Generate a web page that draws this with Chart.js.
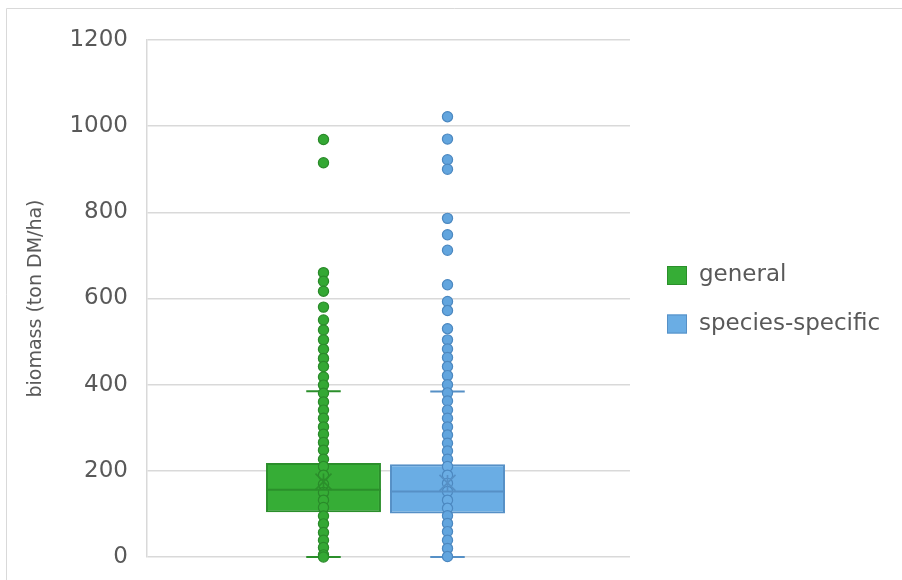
<!DOCTYPE html>
<html><head><meta charset="utf-8">
<script src="https://cdn.jsdelivr.net/npm/chart.js@4"></script>
<style>html,body{margin:0;padding:0;background:#fff}</style>
</head><body>
<canvas id="c" width="902" height="580"></canvas>
<script>
// ---- data ----
const categories = [0];
const seriesNames = ['general', 'species-specific'];
const boxMin    = [0, 0];
const boxQ1     = [104, 101];
const boxMedian = [156, 152];
const boxQ3     = [218, 215];
const boxMax    = [385, 384];
const boxMean   = [175, 172];
const generalPoints = [969, 915, 660, 640, 617, 580, 550, 527, 504, 482, 461, 442, 418, 399, 380, 360, 341, 322, 302, 285, 266, 248, 227, 210, 190, 169, 150, 132, 115, 95, 77, 57, 39, 22, 5, 0];
const speciesPoints = [1022, 970, 922, 900, 786, 748, 712, 632, 593, 572, 530, 504, 483, 463, 442, 421, 400, 381, 362, 341, 322, 302, 283, 264, 246, 227, 210, 190, 171, 152, 132, 113, 96, 78, 59, 39, 20, 1];
const yTickValues = [0, 200, 400, 600, 800, 1000, 1200];
const axisTitle = 'biomass (ton DM/ha)';

// ---- styles ----
const FONT = "'DejaVu Sans', Verdana, sans-serif";
const TEXT = '#595959';
const GRID = '#d9d9d9';
const fills   = ['#36ad36', '#6aade4'];
const borders = ['#2b8f2b', '#5690c6'];
const ptFill  = ['#34a834', '#62a5de'];
const ptLine  = ['#2a8a2a', '#4c88c0'];
const allPoints = [generalPoints, speciesPoints];

const extras = {
  id: 'extras',
  beforeDraw(chart) {
    const ctx = chart.ctx;
    ctx.save();
    ctx.strokeStyle = GRID;
    ctx.lineWidth = 1;
    ctx.beginPath();
    ctx.moveTo(6.5, 580); ctx.lineTo(6.5, 8.5); ctx.lineTo(902, 8.5);
    ctx.stroke();
    ctx.restore();
  },
  afterDatasetsDraw(chart) {
    const ctx = chart.ctx, ys = chart.scales.y;
    chart.data.datasets.forEach((ds, i) => {
      const bar = chart.getDatasetMeta(i).data[0];
      const cx = bar.x, w = bar.width, cap = w * 0.15;
      ctx.save();
      // whiskers
      ctx.strokeStyle = borders[i];
      ctx.lineWidth = 2;
      const yMax = ys.getPixelForValue(boxMax[i]), yQ3 = ys.getPixelForValue(boxQ3[i]);
      const yMin = ys.getPixelForValue(boxMin[i]), yQ1 = ys.getPixelForValue(boxQ1[i]);
      ctx.beginPath();
      ctx.moveTo(cx, yQ3); ctx.lineTo(cx, yMax);
      ctx.moveTo(cx - cap, yMax); ctx.lineTo(cx + cap, yMax);
      ctx.moveTo(cx, yQ1); ctx.lineTo(cx, yMin);
      ctx.moveTo(cx - cap, yMin); ctx.lineTo(cx + cap, yMin);
      ctx.stroke();
      // points
      ctx.lineWidth = 1.2;
      allPoints[i].forEach(v => {
        const py = ys.getPixelForValue(v);
        const inside = v >= boxQ1[i] && v <= boxQ3[i];
        ctx.beginPath();
        ctx.arc(cx, py, 5.1, 0, Math.PI * 2);
        ctx.fillStyle = inside ? fills[i] : ptFill[i];
        ctx.fill();
        ctx.strokeStyle = ptLine[i];
        ctx.stroke();
      });
      // median
      const yMed = ys.getPixelForValue(boxMedian[i]);
      ctx.strokeStyle = borders[i];
      ctx.lineWidth = 2;
      ctx.beginPath();
      ctx.moveTo(cx - w / 2, yMed); ctx.lineTo(cx + w / 2, yMed);
      ctx.stroke();
      // mean marker
      const yMean = ys.getPixelForValue(boxMean[i]);
      const s = 8;
      ctx.lineWidth = 1.6;
      ctx.beginPath();
      ctx.moveTo(cx - s, yMean - s); ctx.lineTo(cx + s, yMean + s);
      ctx.moveTo(cx + s, yMean - s); ctx.lineTo(cx - s, yMean + s);
      ctx.moveTo(cx, yMean - s); ctx.lineTo(cx, yMean + s);
      ctx.stroke();
      ctx.restore();
    });
  },
  afterDraw(chart) {
    const ctx = chart.ctx;
    const area = chart.chartArea;
    ctx.save();
    ctx.font = '23px ' + FONT;
    ctx.textBaseline = 'middle';
    const x0 = area.right + 37;
    const yc = (area.top + area.bottom) / 2;
    seriesNames.forEach((name, i) => {
      const cy = yc - 23 + i * 48.5;
      ctx.fillStyle = fills[i];
      ctx.strokeStyle = borders[i];
      ctx.lineWidth = 1;
      ctx.fillRect(x0, cy - 9.5, 20, 19);
      ctx.strokeRect(x0 + 0.5, cy - 9, 19, 18);
      ctx.fillStyle = TEXT;
      ctx.fillText(name, x0 + 32, cy);
    });
    ctx.restore();
  }
};

new Chart(document.getElementById('c'), {
  type: 'bar',
  data: {
    datasets: seriesNames.map((name, i) => ({
      label: name,
      data: categories.map(c => ({ x: c, y: [boxQ1[i], boxQ3[i]] })),
      backgroundColor: fills[i],
      borderColor: borders[i],
      borderWidth: 2,
      borderSkipped: false,
      categoryPercentage: 0.5135,
      barPercentage: 0.927
    }))
  },
  options: {
    responsive: false,
    animation: false,
    devicePixelRatio: 1,
    layout: { padding: { left: 0, top: 40, right: 272, bottom: 23 } },
    plugins: { legend: { display: false }, tooltip: { enabled: false } },
    scales: {
      x: {
        type: 'linear', display: false, min: -1, max: 1.051,
        afterBuildTicks(s) { s.ticks = categories.map(v => ({ value: v })); }
      },
      y: {
        min: 0, max: 1200,
        afterFit(s) { s.width = 147; s.paddingTop = 0; s.paddingBottom = 0; },
        afterBuildTicks(s) { s.ticks = yTickValues.map(v => ({ value: v })); },
        grid: { color: GRID, lineWidth: 1.5, drawTicks: false },
        border: { display: true, color: GRID, width: 1.5 },
        ticks: { padding: 19, color: TEXT, font: { family: FONT, size: 23 }, callback: v => String(v) },
        title: { display: true, text: axisTitle, color: TEXT, font: { family: FONT, size: 19 }, padding: { top: 25, bottom: 0 } }
      }
    }
  },
  plugins: [extras]
});
</script>
</body></html>
